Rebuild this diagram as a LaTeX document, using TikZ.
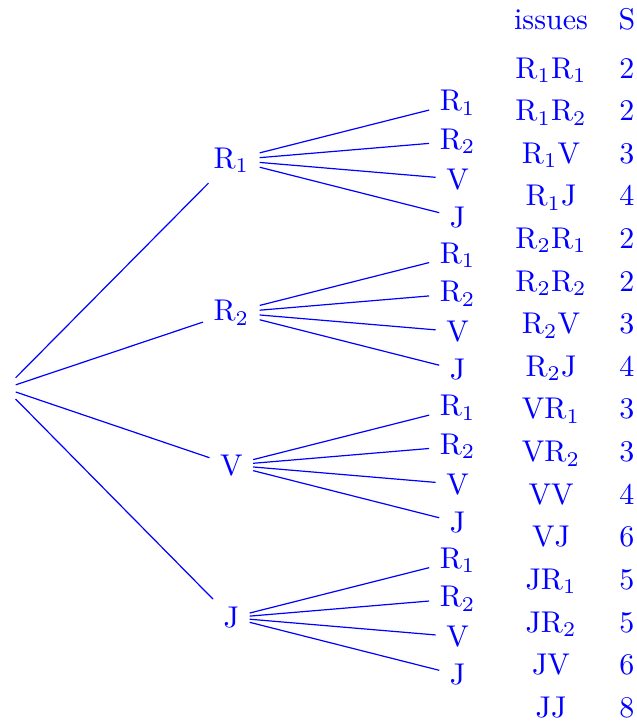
\documentclass[tikz,border=0pt]{standalone}
\usepackage{amsmath}
\usepackage{tikz}
\usepackage{xcolor}
\usetikzlibrary{calc}

\begin{document}
\begin{tikzpicture}[every node/.style={text=blue}, branch/.style={draw=blue}]
\useasboundingbox (0,0) rectangle (7.46,-8.47);

% root
\node[inner sep=3.33pt] (root) at (0.06,-4.55) {};

% first draw and second draw
\foreach \lab/\nm [count=\i] in {R$_1$/R1, R$_2$/R2, V/V, J/J} {
  \pgfmathsetmacro{\ya}{-1.875-1.787*(\i-1)}
  \node (n\nm) at (2.71,\ya) {\lab};
  \draw[branch] (root) -- (n\nm);
  \foreach \lb/\lm [count=\j] in {R$_1$/R1, R$_2$/R2, V/V, J/J} {
    \pgfmathsetmacro{\yb}{\ya+0.67-0.447*(\j-1)}
    \node (n\nm\lm) at (5.36,\yb) {\lb};
    \draw[branch] (n\nm) -- (n\nm\lm);
  }
}

% table of issues
\node[anchor=base] (hiss) at (6.455,-0.351) {issues};
\node[anchor=base] (hsc) at (7.345,-0.351) {S};
\foreach \is/\sc [count=\k] in {R$_1$R$_1$/2, R$_1$R$_2$/2, R$_1$V/3, R$_1$J/4,
    R$_2$R$_1$/2, R$_2$R$_2$/2, R$_2$V/3, R$_2$J/4,
    VR$_1$/3, VR$_2$/3, VV/4, VJ/6,
    JR$_1$/5, JR$_2$/5, JV/6, JJ/8} {
  \pgfmathsetmacro{\yc}{-0.914-0.4993*(\k-1)}
  \node[anchor=base] (iss\k) at (6.455,\yc) {\is};
  \node[anchor=base] (sc\k) at (7.345,\yc) {\sc};
}
\end{tikzpicture}
\end{document}
